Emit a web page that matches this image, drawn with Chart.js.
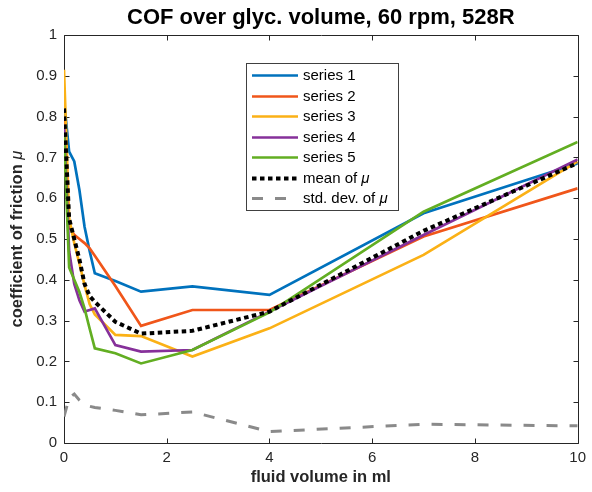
<!DOCTYPE html>
<html>
<head>
<meta charset="utf-8">
<script src="https://cdn.jsdelivr.net/npm/chart.js@4.4.0/dist/chart.umd.min.js"></script>
<style>
    html, body { margin: 0; padding: 0; background: #ffffff; }
</style>
</head>
<body>
<canvas id="grafico-cof" width="592" height="492"></canvas>
<script>
// fluid volume (ml) at which each COF value was taken
var volumes = [0, 0.1, 0.2, 0.3, 0.4, 0.5, 0.6, 1, 1.5, 2.5, 4, 7, 10];

var series1 = [0.84, 0.714, 0.69, 0.62, 0.53, 0.47, 0.416, 0.397, 0.371, 0.384, 0.363, 0.563, 0.685];
var series2 = [0.80, 0.53, 0.51, 0.50, 0.49, 0.477, 0.459, 0.385, 0.287, 0.326, 0.326, 0.506, 0.624];
var series3 = [0.915, 0.55, 0.49, 0.44, 0.387, 0.34, 0.315, 0.265, 0.262, 0.212, 0.281, 0.461, 0.69];
var series4 = [0.78, 0.47, 0.39, 0.35, 0.322, 0.326, 0.33, 0.24, 0.224, 0.228, 0.322, 0.51, 0.695];
var series5 = [0.76, 0.43, 0.40, 0.37, 0.33, 0.28, 0.232, 0.22, 0.195, 0.228, 0.32, 0.567, 0.738];
var meanMu = [0.82, 0.55, 0.50, 0.45, 0.39, 0.36, 0.346, 0.297, 0.268, 0.275, 0.322, 0.52, 0.686];
var stdMu = [0.065, 0.11, 0.12, 0.105, 0.095, 0.09, 0.087, 0.08, 0.069, 0.076, 0.028, 0.046, 0.042];

var xTicks = [0, 2, 4, 6, 8, 10];
var yTicks = [0, 0.1, 0.2, 0.3, 0.4, 0.5, 0.6, 0.7, 0.8, 0.9, 1];

var FONT = "'Liberation Sans', Arial, sans-serif";
var AXIS_COLOR = "#262626";

function points(values) {
    return volumes.map(function (v, i) { return { x: v, y: values[i] }; });
}

function lineSet(label, values, color, width, dash, order) {
    return {
        label: label,
        data: points(values),
        borderColor: color,
        backgroundColor: color,
        borderWidth: width,
        borderDash: dash,
        borderCapStyle: "butt",
        pointRadius: 0,
        tension: 0,
        fill: false,
        order: order
    };
}

/** MATLAB-like box with inward ticks on all four sides. */
var axesBox = {
    id: "axesBox",
    beforeDatasetsDraw: function (chart) {
        var ctx = chart.ctx, a = chart.chartArea;
        var xs = chart.scales.x, ys = chart.scales.y;
        var l = Math.round(a.left) + 0.5, r = Math.round(a.right) + 0.5;
        var t = Math.round(a.top) + 0.5, b = Math.round(a.bottom) + 0.5;
        ctx.save();
        ctx.strokeStyle = AXIS_COLOR;
        ctx.lineWidth = 1;
        ctx.beginPath();
        ctx.rect(l, t, r - l, b - t);
        xs.ticks.forEach(function (tk) {
            var px = Math.round(xs.getPixelForValue(tk.value)) + 0.5;
            ctx.moveTo(px, b); ctx.lineTo(px, b - 5);
            ctx.moveTo(px, t); ctx.lineTo(px, t + 5);
        });
        ys.ticks.forEach(function (tk) {
            var py = Math.round(ys.getPixelForValue(tk.value)) + 0.5;
            ctx.moveTo(l, py); ctx.lineTo(l + 5, py);
            ctx.moveTo(r, py); ctx.lineTo(r - 5, py);
        });
        ctx.stroke();
        ctx.restore();
    }
};

/** Draws text where a trailing "μ" is set in italic. */
function drawMixed(ctx, text, x, y, baseFont, muFont) {
    var idx = text.indexOf("\u03bc");
    var head = idx >= 0 ? text.slice(0, idx) : text;
    ctx.font = baseFont;
    ctx.fillText(head, x, y);
    if (idx >= 0) {
        var w = ctx.measureText(head).width;
        ctx.font = muFont;
        ctx.fillText("\u03bc", x + w, y);
    }
}

function mixedWidth(ctx, text, baseFont, muFont) {
    var idx = text.indexOf("\u03bc");
    var head = idx >= 0 ? text.slice(0, idx) : text;
    ctx.font = baseFont;
    var w = ctx.measureText(head).width;
    if (idx >= 0) { ctx.font = muFont; w += ctx.measureText("\u03bc").width; }
    return w;
}

/** Title centred over the plot box, like MATLAB does. */
var plotTitle = {
    id: "plotTitle",
    afterDraw: function (chart) {
        var ctx = chart.ctx, a = chart.chartArea;
        ctx.save();
        ctx.fillStyle = "#000000";
        ctx.font = "bold 22px " + FONT;
        ctx.textAlign = "center";
        ctx.textBaseline = "middle";
        ctx.fillText("COF over glyc. volume, 60 rpm, 528R", (a.left + a.right) / 2, 18);
        ctx.restore();
    }
};

var yTitle = {
    id: "yTitle",
    afterDraw: function (chart) {
        var ctx = chart.ctx, a = chart.chartArea;
        var text = "coefficient of friction \u03bc";
        var base = "bold 16.5px " + FONT, mu = "italic 16.5px " + FONT;
        var w = mixedWidth(ctx, text, base, mu);
        ctx.save();
        ctx.translate(17, (a.top + a.bottom) / 2);
        ctx.rotate(-Math.PI / 2);
        ctx.fillStyle = AXIS_COLOR;
        ctx.textBaseline = "middle";
        ctx.textAlign = "left";
        drawMixed(ctx, text, -w / 2, 0, base, mu);
        ctx.restore();
    }
};

var boxLegend = {
    id: "boxLegend",
    afterDraw: function (chart) {
        var ctx = chart.ctx;
        var left = 246.5, top = 63.5, width = 152, height = 147;
        var rowY = 75, rowStep = 20.5;
        ctx.save();
        ctx.fillStyle = "#ffffff";
        ctx.fillRect(left, top, width, height);
        ctx.strokeStyle = "#404040";
        ctx.lineWidth = 1;
        ctx.strokeRect(left, top, width, height);
        chart.data.datasets.forEach(function (ds, i) {
            var y = Math.round(rowY + i * rowStep) + 0.5;
            ctx.strokeStyle = ds.borderColor;
            ctx.lineWidth = ds.borderWidth;
            ctx.setLineDash(ds.borderDash || []);
            ctx.beginPath();
            ctx.moveTo(252, y);
            ctx.lineTo(298, y);
            ctx.stroke();
            ctx.setLineDash([]);
            ctx.fillStyle = "#000000";
            ctx.textBaseline = "middle";
            ctx.textAlign = "left";
            drawMixed(ctx, ds.label, 303, y, "15px " + FONT, "italic 15px " + FONT);
        });
        ctx.restore();
    }
};

new Chart(document.getElementById("grafico-cof").getContext("2d"), {
    type: "line",
    data: {
        datasets: [
            lineSet("series 1", series1, "#0072BD", 2.7, [], 7),
            lineSet("series 2", series2, "#F0561A", 2.7, [], 6),
            lineSet("series 3", series3, "#FBB116", 2.7, [], 5),
            lineSet("series 4", series4, "#86309A", 2.7, [], 4),
            lineSet("series 5", series5, "#62AE22", 2.7, [], 3),
            lineSet("mean of \u03bc", meanMu, "#000000", 4, [4.5, 3.5], 2),
            lineSet("std. dev. of \u03bc", stdMu, "#8a8a8a", 3, [11, 12], 1)
        ]
    },
    options: {
        responsive: false,
        animation: false,
        layout: { padding: { left: 0, right: 10, top: 35, bottom: 0 } },
        plugins: {
            legend: { display: false },
            tooltip: { enabled: false },
            title: { display: false }
        },
        scales: {
            x: {
                type: "linear",
                min: 0,
                max: 10,
                afterBuildTicks: function (s) { s.ticks = xTicks.map(function (v) { return { value: v }; }); },
                afterFit: function (s) { s.height = 49; },
                grid: { display: false, drawTicks: false },
                border: { display: false },
                ticks: { color: AXIS_COLOR, font: { family: FONT, size: 15 }, padding: 6, maxRotation: 0 },
                title: {
                    display: true,
                    text: "fluid volume in ml",
                    color: AXIS_COLOR,
                    font: { family: FONT, size: 16.5, weight: "bold" },
                    padding: { top: 0, bottom: 5 }
                }
            },
            y: {
                type: "linear",
                min: 0,
                max: 1,
                afterBuildTicks: function (s) { s.ticks = yTicks.map(function (v) { return { value: v }; }); },
                afterFit: function (s) { s.width = 64; },
                grid: { display: false, drawTicks: false },
                border: { display: false },
                ticks: {
                    color: AXIS_COLOR,
                    font: { family: FONT, size: 15 },
                    padding: 7,
                    callback: function (v) { return String(Math.round(v * 10) / 10); }
                }
            }
        }
    },
    plugins: [axesBox, plotTitle, yTitle, boxLegend]
});
</script>
</body>
</html>
